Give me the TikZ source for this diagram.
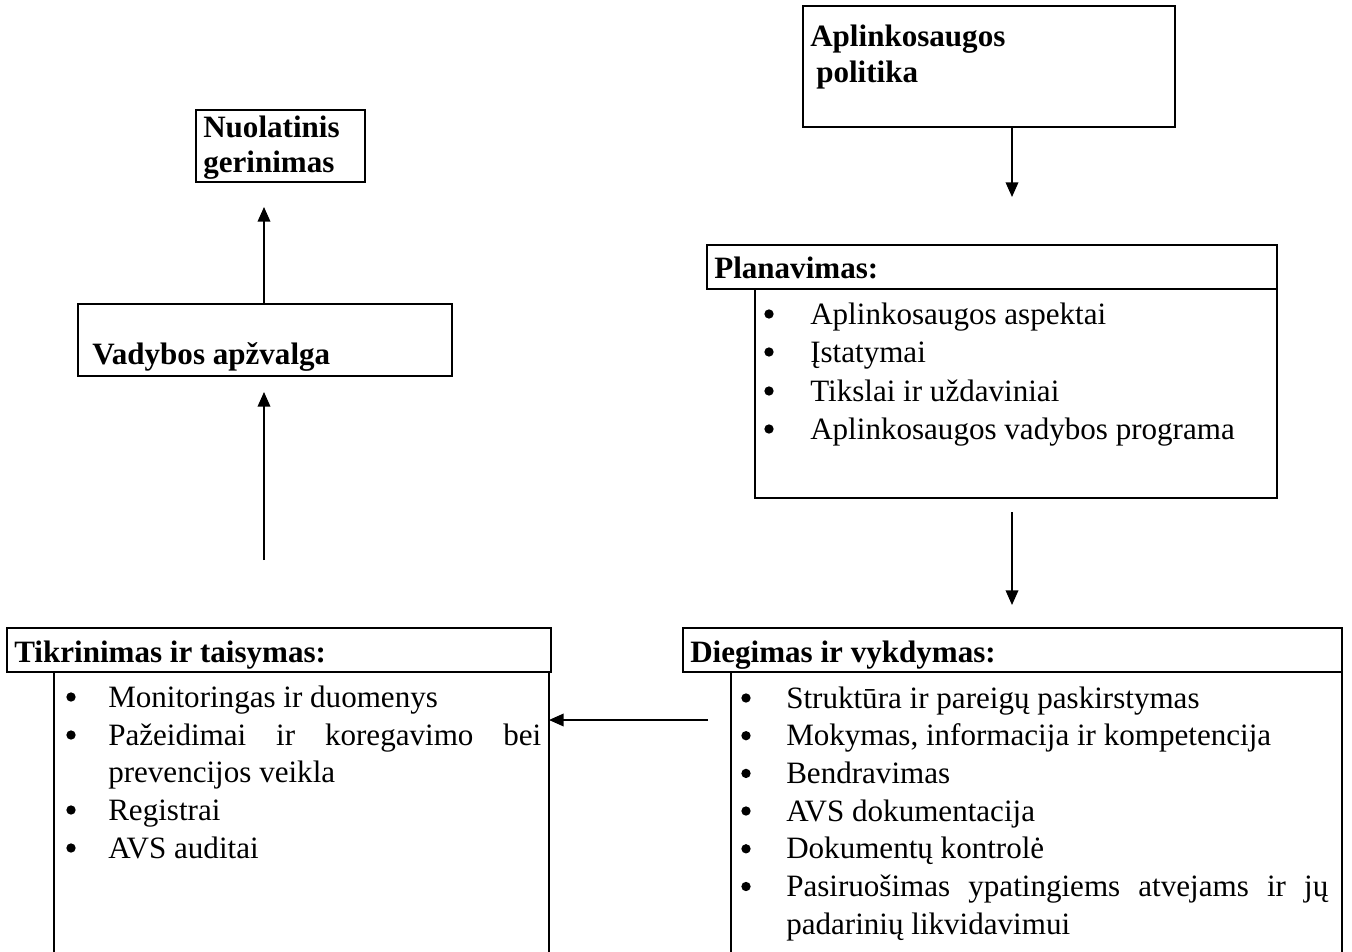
\documentclass[tikz,border=0pt]{standalone}
\usepackage{fontspec}
\setmainfont{Liberation Serif}
\usetikzlibrary{arrows.meta}
\begin{document}
\begin{tikzpicture}[x=0.75pt,y=-0.75pt,
  box/.style={draw,line width=1.4pt,inner sep=0pt,outer sep=0pt,anchor=north west},
  txt/.style={anchor=base west,inner sep=0pt,font=\fontsize{23.3pt}{27.75pt}\selectfont},
  btxt/.style={txt,font=\fontsize{23.3pt}{27.75pt}\selectfont\bfseries},
  bul/.style={circle,fill=black,inner sep=0pt,minimum size=7pt,yshift=7.5pt},
  arr/.style={line width=1.1pt,-{Triangle[length=11pt,width=9.5pt]}}]
\path[use as bounding box] (0,0) rectangle (1352,952);
\clip (0,0) rectangle (1352,952);
% boxes
\node[box,minimum width=279pt,minimum height=90.75pt] (pol) at (803,6) {};
\node[box,minimum width=126.75pt,minimum height=54pt] (nuo) at (196,110) {};
\node[box,minimum width=280.5pt,minimum height=54pt] (vad) at (78,304) {};
\node[box,minimum width=391.5pt,minimum height=156.75pt] (planb) at (755,289) {};
\node[box,minimum width=427.5pt,minimum height=33pt] (planh) at (707,245) {};
\node[box,minimum width=371.25pt,minimum height=216pt] (tikb) at (54,672) {};
\node[box,minimum width=408pt,minimum height=33pt] (tikh) at (7,628) {};
\node[box,minimum width=458.25pt,minimum height=216pt] (diegb) at (731,672) {};
\node[box,minimum width=494.25pt,minimum height=33pt] (diegh) at (683,628) {};
% texts
\node[btxt] (pol1) at (810,47) {Aplinkosaugos};
\node[btxt] (pol2) at (816,83) {politika};
\node[btxt] (nuo1) at (203,138) {Nuolatinis};
\node[btxt] (nuo2) at (203,173) {gerinimas};
\node[btxt] (vad1) at (92,364) {Vadybos apžvalga};
\node[btxt] (plant) at (714,278) {Planavimas:};
\node[btxt] (tikt) at (14,662) {Tikrinimas ir taisymas:};
\node[btxt] (diegt) at (690,662) {Diegimas ir vykdymas:};
% planavimas items
\node[bul] (pb1) at (769,324) {}; \node[txt] (p1) at (810,324) {Aplinkosaugos aspektai};
\node[bul] (pb2) at (769,362) {}; \node[txt] (p2) at (810,362) {Įstatymai};
\node[bul] (pb3) at (769,401) {}; \node[txt] (p3) at (810,401) {Tikslai ir uždaviniai};
\node[bul] (pb4) at (769,439) {}; \node[txt] (p4) at (810,439) {Aplinkosaugos vadybos programa};
% tikrinimas items
\node[bul] (tb1) at (71,707) {}; \node[txt] (t1) at (108,707) {Monitoringas ir duomenys};
\node[bul] (tb2) at (71,745) {}; \node[txt] (t2) at (108,745) {\makebox[324.75pt][s]{Pažeidimai ir koregavimo bei}};
\node[txt] (t2b) at (108,782) {prevencijos veikla};
\node[bul] (tb3) at (71,820) {}; \node[txt] (t3) at (108,820) {Registrai};
\node[bul] (tb4) at (71,858) {}; \node[txt] (t4) at (108,858) {AVS auditai};
% diegimas items
\node[bul] (db1) at (746,708) {}; \node[txt] (d1) at (786,708) {Struktūra ir pareigų paskirstymas};
\node[bul] (db2) at (746,745.7) {}; \node[txt] (d2) at (786,745.7) {Mokymas, informacija ir kompetencija};
\node[bul] (db3) at (746,783.4) {}; \node[txt] (d3) at (786,783.4) {Bendravimas};
\node[bul] (db4) at (746,821) {}; \node[txt] (d4) at (786,821) {AVS dokumentacija};
\node[bul] (db5) at (746,858.8) {}; \node[txt] (d5) at (786,858.8) {Dokumentų kontrolė};
\node[bul] (db6) at (746,896.5) {}; \node[txt] (d6) at (786,896.5) {\makebox[406.5pt][s]{Pasiruošimas ypatingiems atvejams ir jų}};
\node[txt] (d6b) at (786,934) {padarinių likvidavimui};
% connector ends
\coordinate (a1e) at (1012,197);
\coordinate (a2s) at (1012,512);
\coordinate (a2e) at (1012,605);
\coordinate (a3s) at (708,720);
\coordinate (a4s) at (264,560);
\coordinate (a4e) at (264,392);
\coordinate (a5e) at (264,207);
% connectors
\draw[arr] (pol.south -| a1e) -- (a1e);
\draw[arr] (a2s) -- (a2e);
\draw[arr] (a3s) -- (tikb.east |- a3s);
\draw[arr] (a4s) -- (a4e);
\draw[arr] (vad.north -| a5e) -- (a5e);
\end{tikzpicture}
\end{document}
